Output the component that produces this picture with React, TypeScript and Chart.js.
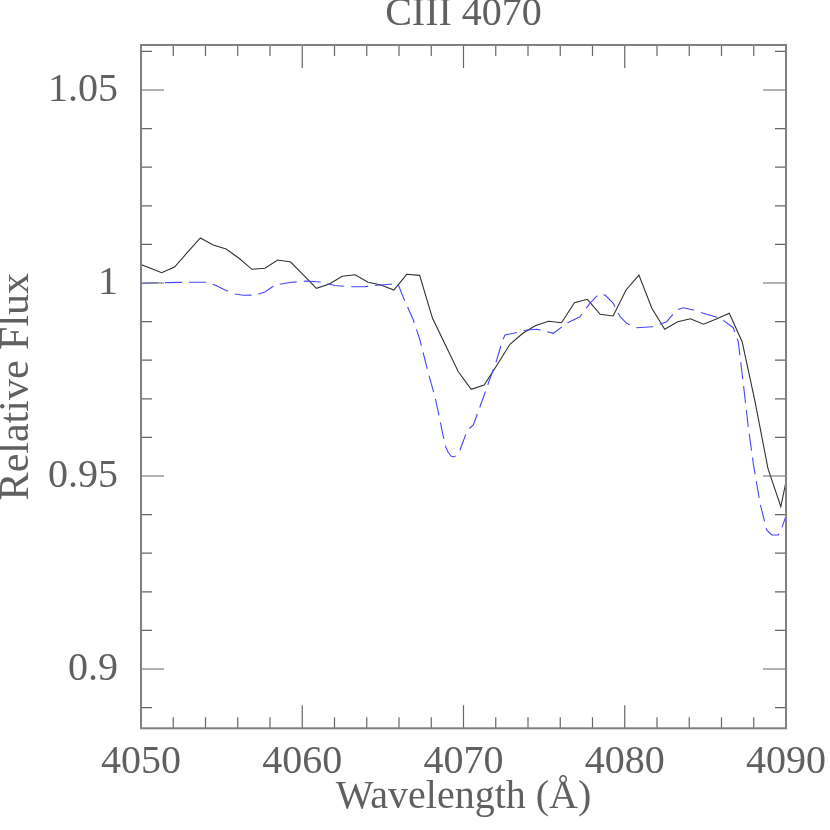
import React, { useEffect, useRef } from "react";
import { Chart, registerables } from "chart.js";

Chart.register(...registerables);

// Observed spectrum (solid black)
const observedWavelength = [
  4049.68, 4050.48, 4051.28, 4052.08, 4052.88, 4053.68, 4054.48, 4055.28, 4056.08, 4056.88,
  4057.68, 4058.48, 4059.28, 4060.08, 4060.88, 4061.68, 4062.48, 4063.28, 4064.08, 4064.88,
  4065.68, 4066.48, 4067.28, 4068.08, 4068.88, 4069.68, 4070.48, 4071.28, 4072.08, 4072.88,
  4073.68, 4074.48, 4075.28, 4076.08, 4076.88, 4077.68, 4078.48, 4079.28, 4080.08, 4080.88,
  4081.68, 4082.48, 4083.28, 4084.08, 4084.88, 4085.68, 4086.48, 4087.28, 4088.08, 4088.88,
  4089.68, 4090.48,
];
const observedFlux = [
  1.00528, 1.00402, 1.00267, 1.00415, 1.00795, 1.01166, 1.00984, 1.00881, 1.0064, 1.00355,
  1.00381, 1.00596, 1.00544, 1.00207, 0.99863, 0.99974, 1.00174, 1.00215, 1.00018, 0.99948,
  0.99819, 1.00225, 1.00199, 0.99085, 0.98394, 0.97702, 0.97246, 0.97358, 0.97876, 0.98412,
  0.98697, 0.98899, 0.99008, 0.98972, 0.9949, 0.99578, 0.99189, 0.99145, 0.99819, 1.00207,
  0.99345, 0.98801, 0.98997, 0.99075, 0.98933, 0.99067, 0.99215, 0.98479, 0.96925, 0.95199,
  0.94205, 0.95829,
];

// Model spectrum (dashed blue)
const modelWavelength = [
  4050.0, 4051.18, 4052.73, 4053.97, 4054.59, 4055.21, 4055.83, 4056.33, 4057.07, 4057.69,
  4058.31, 4059.24, 4060.23, 4061.1, 4062.03, 4062.96, 4063.89, 4064.82, 4065.44, 4065.94,
  4066.25, 4066.56, 4066.89, 4067.3, 4067.82, 4068.23, 4068.54, 4068.85, 4069.04, 4069.22,
  4069.41, 4069.6, 4069.78, 4070.2, 4070.4, 4070.61, 4071.02, 4071.54, 4072.06, 4072.39,
  4072.57, 4073.09, 4073.92, 4074.54, 4075.05, 4075.57, 4076.4, 4077.22, 4077.84, 4078.36,
  4078.78, 4079.29, 4079.71, 4080.12, 4080.74, 4081.77, 4082.6, 4083.22, 4083.63, 4084.25,
  4085.08, 4085.91, 4086.73, 4087.04, 4087.35, 4087.66, 4087.97, 4088.39, 4088.8, 4089.11,
  4089.52, 4089.74, 4089.98,
];
const modelFlux = [
  0.99992, 1.00008, 1.00018, 1.00018, 0.99948, 0.99819, 0.99715, 0.99681, 0.99689, 0.99767,
  0.99948, 1.00013, 1.00052, 1.00026, 0.99935, 0.99904, 0.99904, 0.99948, 0.99966, 0.99974,
  0.99645, 0.99352, 0.99041, 0.98523, 0.97661, 0.97054, 0.96451, 0.95803, 0.95622, 0.95518,
  0.95492, 0.95544, 0.95674, 0.9614, 0.96244, 0.96321, 0.96795, 0.97402, 0.98005, 0.98472,
  0.98653, 0.98697, 0.98782, 0.98801, 0.98756, 0.98697, 0.98956, 0.99127, 0.99474, 0.99707,
  0.99689, 0.99474, 0.99127, 0.98956, 0.98842, 0.98868, 0.98997, 0.99301, 0.9936, 0.99301,
  0.99189, 0.99093, 0.98842, 0.98479, 0.97402, 0.96277, 0.95329, 0.94293, 0.93601, 0.93472,
  0.93472, 0.93653, 0.93946,
];

const xMajorTicks = [4050, 4060, 4070, 4080, 4090];
const xMinorTicks = [
  4052, 4054, 4056, 4058, 4062, 4064, 4066, 4068, 4072, 4074, 4076, 4078, 4082, 4084, 4086, 4088,
];
const yMajorTicks = [0.9, 0.95, 1, 1.05];
const yMajorLabels = ["0.9", "0.95", "1", "1.05"];
const yMinorTicks = [
  0.89, 0.91, 0.92, 0.93, 0.94, 0.96, 0.97, 0.98, 0.99, 1.01, 1.02, 1.03, 1.04, 1.06,
];

const titleText = "CIII 4070";
const xTitle = "Wavelength (Å)";
const yTitle = "Relative Flux";

const FONT = "'Liberation Serif', 'DejaVu Serif', serif";
const TEXT_COLOR = "#606060";

const frameTicksPlugin = {
  id: "frameTicks",
  afterDatasetsDraw(chart: any) {
    const { ctx, chartArea, scales } = chart;
    const { left, right, top, bottom } = chartArea;
    const x = scales.x;
    const y = scales.y;
    const MAJOR = 23;
    const MINOR = 11;
    ctx.save();
    ctx.strokeStyle = "#666666";
    ctx.lineWidth = 1.2;
    ctx.beginPath();
    const vt = (v: number, len: number) => {
      const px = x.getPixelForValue(v);
      ctx.moveTo(px, bottom);
      ctx.lineTo(px, bottom - len);
      ctx.moveTo(px, top);
      ctx.lineTo(px, top + len);
    };
    const ht = (v: number, len: number) => {
      const py = y.getPixelForValue(v);
      ctx.moveTo(left, py);
      ctx.lineTo(left + len, py);
      ctx.moveTo(right, py);
      ctx.lineTo(right - len, py);
    };
    xMajorTicks.forEach((v) => vt(v, MAJOR));
    xMinorTicks.forEach((v) => vt(v, MINOR));
    yMajorTicks.forEach((v) => ht(v, MAJOR));
    yMinorTicks.forEach((v) => ht(v, MINOR));
    ctx.stroke();
    ctx.strokeStyle = "#808080";
    ctx.lineWidth = 2;
    ctx.strokeRect(left, top, right - left, bottom - top);

    // chart title, centred over the plot area
    ctx.fillStyle = TEXT_COLOR;
    ctx.font = `40px ${FONT}`;
    ctx.textAlign = "center";
    ctx.textBaseline = "alphabetic";
    ctx.fillText(titleText, (left + right) / 2, 25);
    ctx.restore();
  },
};

export default function App() {
  const ref = useRef<HTMLCanvasElement | null>(null);

  useEffect(() => {
    if (!ref.current) return;
    const observed = observedWavelength.map((w, i) => ({ x: w, y: observedFlux[i] }));
    const model = modelWavelength.map((w, i) => ({ x: w, y: modelFlux[i] }));

    const chart = new Chart(ref.current, {
      type: "line",
      data: {
        datasets: [
          {
            label: "Model",
            data: model,
            borderColor: "rgb(70,70,255)",
            borderWidth: 1.1,
            borderDash: [17, 7],
            pointRadius: 0,
            tension: 0,
            fill: false,
          },
          {
            label: "Observed",
            data: observed,
            borderColor: "#303030",
            borderWidth: 1.1,
            pointRadius: 0,
            tension: 0,
            fill: false,
          },
        ],
      },
      options: {
        animation: false,
        responsive: false,
        maintainAspectRatio: false,
        devicePixelRatio: 1,
        layout: { padding: { left: 0, right: 44, top: 45, bottom: 0 } },
        plugins: {
          legend: { display: false },
          tooltip: { enabled: false },
          title: { display: false },
        },
        scales: {
          x: {
            type: "linear",
            min: 4050,
            max: 4090,
            grid: { display: false, drawTicks: false },
            border: { display: false },
            afterBuildTicks: (scale: any) => {
              scale.ticks = xMajorTicks.map((v) => ({ value: v }));
            },
            afterFit: (scale: any) => {
              scale.height = 101.7;
              scale.paddingLeft = 0;
              scale.paddingRight = 0;
            },
            ticks: {
              autoSkip: false,
              maxRotation: 0,
              minRotation: 0,
              padding: 14,
              color: TEXT_COLOR,
              font: { family: FONT, size: 40, lineHeight: 1 },
              callback: (v: any) => String(v),
            },
            title: {
              display: true,
              text: xTitle,
              color: TEXT_COLOR,
              font: { family: FONT, size: 40, lineHeight: 1 },
              padding: { top: 0, bottom: 12.5 },
            },
          },
          y: {
            type: "linear",
            min: 0.88464,
            max: 1.06166,
            grid: { display: false, drawTicks: false },
            border: { display: false },
            afterBuildTicks: (scale: any) => {
              scale.ticks = yMajorTicks.map((v) => ({ value: v }));
            },
            afterFit: (scale: any) => {
              scale.width = 141;
              scale.paddingTop = 0;
              scale.paddingBottom = 0;
            },
            ticks: {
              autoSkip: false,
              padding: 23,
              color: TEXT_COLOR,
              font: { family: FONT, size: 40, lineHeight: 1 },
              callback: (v: any) => {
                const idx = yMajorTicks.findIndex((t) => Math.abs(t - Number(v)) < 1e-9);
                return idx >= 0 ? yMajorLabels[idx] : "";
              },
            },
            title: {
              display: true,
              text: yTitle,
              color: TEXT_COLOR,
              font: { family: FONT, size: 42, lineHeight: 1 },
              padding: { top: -4, bottom: 0 },
            },
          },
        },
      },
      plugins: [frameTicksPlugin],
    });

    return () => chart.destroy();
  }, []);

  return (
    <div
      style={{
        position: "fixed",
        left: 0,
        top: 0,
        width: 830,
        height: 830,
        background: "#ffffff",
      }}
    >
      <canvas ref={ref} width={830} height={830} style={{ width: 830, height: 830, display: "block" }} />
    </div>
  );
}
